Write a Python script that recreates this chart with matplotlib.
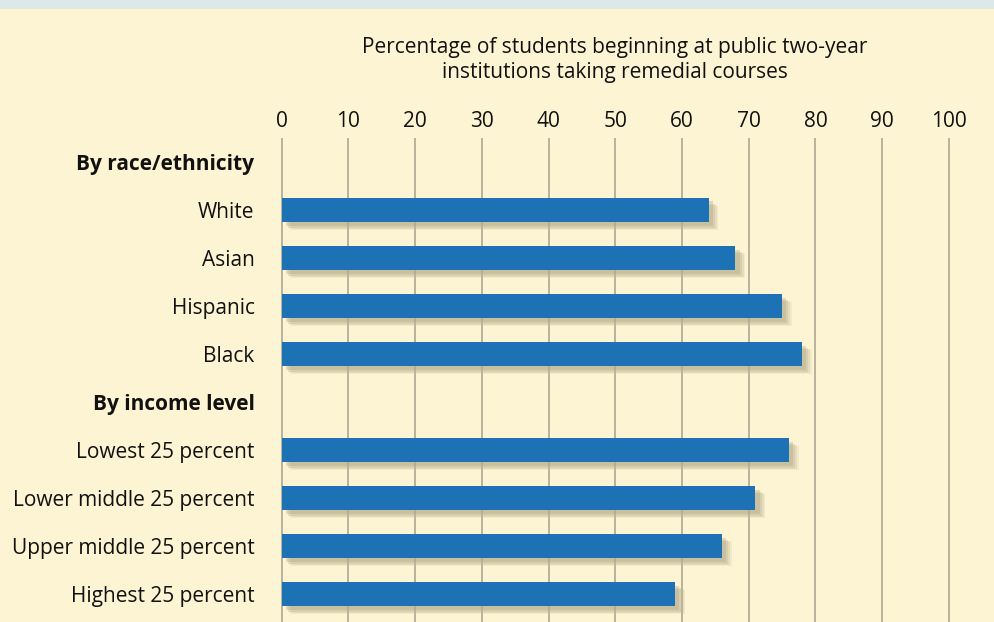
import matplotlib
matplotlib.use('Agg')
import matplotlib.pyplot as plt
import matplotlib.patheffects as pe
from matplotlib.patches import Rectangle

# data
labels = ['By race/ethnicity', 'White', 'Asian', 'Hispanic', 'Black',
          'By income level', 'Lowest 25 percent', 'Lower middle 25 percent',
          'Upper middle 25 percent', 'Highest 25 percent']
headers = ['By race/ethnicity', 'By income level']
values = [None, 64, 68, 75, 78, None, 76, 71, 66, 59]
ticks = [0, 10, 20, 30, 40, 50, 60, 70, 80, 90, 100]
title = 'Percentage of students beginning at public two-year\ninstitutions taking remedial courses'

bg = '#FDF4D4'
bar_color = '#1C72B4'
grid_color = '#A9A08C'

plt.rcParams['font.family'] = ['Open Sans', 'DejaVu Sans']

fig = plt.figure(figsize=(9.94, 6.22), dpi=100, facecolor=bg)
fig.patches.append(Rectangle((0, 1 - 9 / 622), 1, 9 / 622, transform=fig.transFigure,
                             facecolor='#DDE9E8', edgecolor='none', zorder=0))

ax = fig.add_axes([279.5 / 994, 0, (951 - 279.5) / 994, (622 - 138) / 622])
ax.set_facecolor(bg)

rows = list(range(len(labels)))
bar_rows = [r for r, v in zip(rows, values) if v is not None]
bar_vals = [v for v in values if v is not None]

# soft drop shadow built from a few offset layers
shadow = [pe.SimplePatchShadow(offset=(7, -6), shadow_rgbFace='#C8BE9E', alpha=0.2),
          pe.SimplePatchShadow(offset=(6, -5), shadow_rgbFace='#C0B696', alpha=0.25),
          pe.SimplePatchShadow(offset=(4.5, -4), shadow_rgbFace='#B8AE8E', alpha=0.3),
          pe.SimplePatchShadow(offset=(3, -2.5), shadow_rgbFace='#B0A686', alpha=0.35),
          pe.Normal()]
bars = ax.barh(bar_rows, bar_vals, height=0.5, color=bar_color, zorder=3)
for b in bars:
    b.set_path_effects(shadow)

ax.set_xlim(-0.3, 100.3)
ax.set_ylim(9.58, -0.5)
for t in ticks:
    ax.axvline(t, color=grid_color, linewidth=1.1, zorder=1)

ax.xaxis.tick_top()
ax.set_xticks(ticks)
ax.set_xticklabels([str(t) for t in ticks], fontsize=15, color='#111111')
ax.tick_params(axis='x', length=0, pad=4)
ax.set_yticks(rows)
ax.set_yticklabels(labels, fontsize=15, color='#111111')
ax.tick_params(axis='y', length=0, pad=18)
for lab in ax.get_yticklabels():
    if lab.get_text() in headers:
        lab.set_fontweight('bold')

for s in ax.spines.values():
    s.set_visible(False)

fig.text(615 / 994, 1 - 60 / 622, title, ha='center', va='center',
         fontsize=15, color='#111111', linespacing=1.3)

fig.savefig('out.png', dpi=100, facecolor=bg)
